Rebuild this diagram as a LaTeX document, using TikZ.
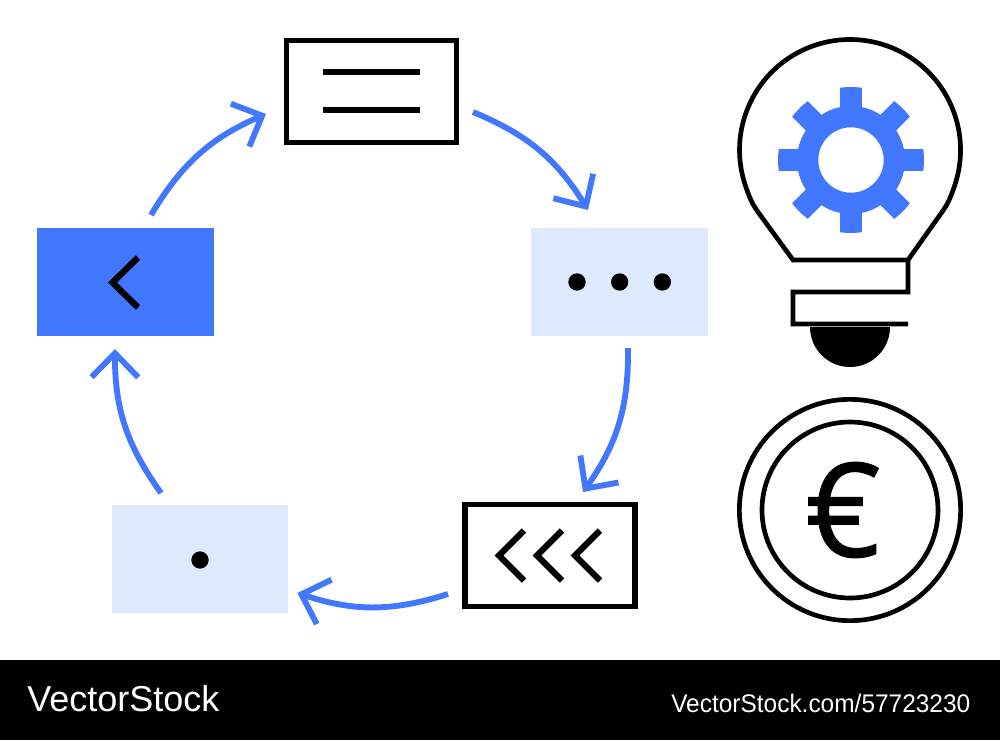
\documentclass[tikz,border=0pt]{standalone}
\usepackage{fontspec}
\setmainfont{Liberation Sans}
\newfontfamily\eurofont[FakeBold=0.7]{Open Sans}
\usetikzlibrary{arrows.meta}
\definecolor{flowblue}{HTML}{4278FF}
\definecolor{paleblue}{HTML}{DDE9FC}

\begin{document}
\begin{tikzpicture}[x=0.75pt,y=-0.75pt,>={Straight Barb[length=18pt,width=35pt]},bend angle=18]

  \tikzstyle{solid box}=[rectangle,inner sep=0pt,outer sep=0pt,minimum width=132.5pt,minimum height=81pt]
  \tikzstyle{pale box}=[solid box,fill=paleblue]
  \tikzstyle{blue box}=[solid box,fill=flowblue]
  \tikzstyle{line box}=[rectangle,draw=black,line width=3.9pt,inner sep=0pt,outer sep=0pt,
                        minimum width=127.5pt,minimum height=76.5pt]
  \tikzstyle{dot}=[circle,fill=black,inner sep=0pt,minimum size=13pt]
  \tikzstyle{flow}=[->,draw=flowblue,line width=4.4pt]
  \tikzstyle{glyph}=[draw=black,line width=3.9pt]
  \tikzstyle{chevron}=[draw=black,line width=4.7pt]
  \tikzstyle{outline}=[draw=black,line width=3.5pt]
  \tikzstyle{credit}=[text=white,inner sep=0pt,anchor=west]

  \useasboundingbox (0,0) rectangle (1000,740);
  \fill [black] (0,660) rectangle (1000,740);

  % Boxes of the cycle
  \node [line box]                          (menu) at (371.5,91.5)                  {};
  \node [pale box] (dots) [below of=menu,node distance=142.9pt,xshift=186pt]        {};
  \node [blue box] (back) [below of=menu,node distance=142.9pt,xshift=-184.5pt]     {};
  \node [line box] (rewind) [below of=dots,node distance=205.1pt,xshift=-52.1pt]    {};
  \node [pale box] (point) [left of=rewind,node distance=262.5pt,yshift=-2.6pt]     {};

  % Marks inside the boxes
  \draw [glyph] (323,72) -- (420,72) (323,110) -- (420,110);
  \node [dot] (dot1) at (577,282) {};
  \node [dot] (dot2) [right of=dot1,node distance=32pt] {};
  \node [dot] (dot3) [right of=dot2,node distance=32pt] {};
  \node [dot] (dot4) at (200,560) {};
  \draw [chevron] (138,257.5) -- (112.5,282.5) -- (138,307.5);
  \foreach \dx in {0,38,76}
    \draw [chevron,xshift=\dx*0.75pt] (524,530.5) -- (499,555.5) -- (524,580.5);

  % Arrows between the boxes
  \coordinate (menu out)   at ([shift={(16.5,20.5)}]menu.east);
  \coordinate (dots in)    at ([shift={(-31.5,-18)}]dots.north);
  \coordinate (dots out)   at ([shift={(8.5,12)}]dots.south);
  \coordinate (rewind in)  at ([shift={(33,-12.5)}]rewind.north);
  \coordinate (rewind out) at ([shift={(-17,38.5)}]rewind.west);
  \coordinate (point in)   at ([shift={(9,34)}]point.east);
  \coordinate (point out)  at ([shift={(-39,-12)}]point.north);
  \coordinate (back in)    at ([shift={(-10.5,13)}]back.south);
  \coordinate (back out)   at ([shift={(25.5,-13)}]back.north);
  \coordinate (menu in)    at ([shift={(-20.5,22.5)}]menu.west);

  \draw [flow] (menu out) to [bend left] (dots in);
  \draw [flow] (dots out) to [bend left] (rewind in);
  \draw [flow] (rewind out) to [bend left] (point in);
  \draw [flow] (point out) to [bend left] (back in);
  \draw [flow] (back out) to [bend left] (menu in);

  % Bulb
  \draw [outline,line join=miter]
    (908,324) -- (793,324) -- (793,292) -- (908,292) -- (908,260) -- (793,260)
    -- (758,212) .. controls (752,204) and (749,196) .. (746.2,187.8)
    arc [start angle=160,end angle=380,radius=110.5]
    .. controls (951,196) and (948,204) .. (942,212) -- (908,260);
  \fill [black] (810,327) arc [start angle=180,end angle=0,radius=40] -- cycle;

  % Gear
  \begin{scope}[shift={(851,160)}]
    \clip (0,0) circle [radius=73];
    \foreach \a in {0,45,...,315}
      \fill [flowblue,rotate=\a] (45,-11) rectangle (80,11);
  \end{scope}
  \fill [flowblue,even odd rule] (851,160) circle [radius=54] (851,160) circle [radius=32.7];

  % Coin
  \node [circle,outline,inner sep=0pt,minimum size=166pt] (coin outer) at (850,510) {};
  \node [circle,outline,inner sep=0pt,minimum size=132pt] (coin inner) at (850,510) {};
  \node [inner sep=0pt] (euro) at (843,510) {\eurofont\fontsize{98pt}{98pt}\selectfont €};

  % Footer
  \node [credit] (brand) at (27,699) {\fontsize{27pt}{27pt}\selectfont VectorStock};
  \node [credit] (url) at (671,703) {\scalebox{0.96}[1]{\fontsize{19.1pt}{19.1pt}\selectfont VectorStock.com/57723230}};
\end{tikzpicture}
\end{document}
